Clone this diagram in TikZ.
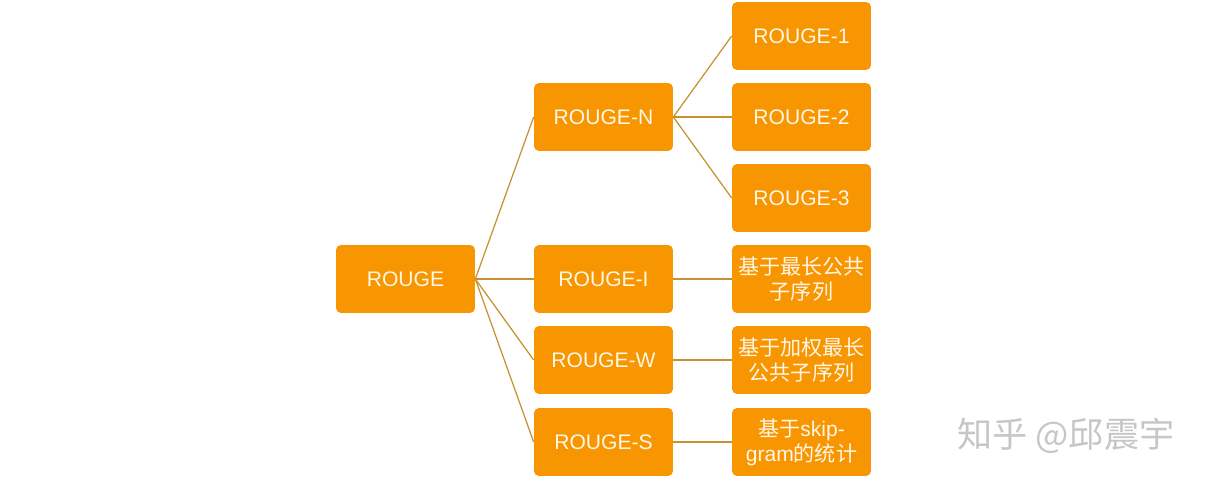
\documentclass[tikz,border=0pt]{standalone}
\usepackage{fontspec}
\setmainfont{Liberation Sans}
\newfontfamily\cjk{Noto Sans CJK SC}
\usepackage{tikz}
\usetikzlibrary{positioning}
\definecolor{boxorange}{HTML}{F79600}
\definecolor{linkgold}{HTML}{C4922E}
\definecolor{boxtext}{HTML}{FFF6E6}
\tikzset{rbox/.style={fill=boxorange, text=boxtext, rounded corners=0.1cm,
  minimum width=2.78cm, minimum height=1.36cm, inner sep=0pt, align=center,
  font=\fontsize{12}{14.2}\selectfont}}
\tikzset{link/.style={draw=linkgold, line width=0.7pt}}

\begin{document}
\begin{tikzpicture}[x=0.02cm,y=-0.02cm]
\useasboundingbox (0,0) rectangle (1208,486);
% root
\node[rbox] (root) at (405.5,279) {ROUGE};
% second level
\node[rbox] (rn) at (603.5,117) {ROUGE-N};
\node[rbox] (rl) at (603.5,279) {ROUGE-I};
\node[rbox] (rw) at (603.5,360) {ROUGE-W};
\node[rbox] (rs) at (603.5,442) {ROUGE-S};
% third level
\node[rbox] (r1) at (801.5,36) {ROUGE-1};
\node[rbox] (r2) at (801.5,117) {ROUGE-2};
\node[rbox] (r3) at (801.5,198) {ROUGE-3};
\node[rbox] (dl) at (801.5,279) {\cjk 基于最长公共\\\cjk 子序列};
\node[rbox] (dw) at (801.5,360) {\cjk 基于加权最长\\\cjk 公共子序列};
\node[rbox] (ds) at (801.5,442) {{\cjk 基于}skip-\\gram{\cjk 的统计}};
\foreach \c in {rn,rl,rw,rs} {
\draw[link] (root.east) -- (\c.west);
}
\foreach \c in {r1,r2,r3} {
\draw[link] (rn.east) -- (\c.west);
}
\draw[link] (rl.east) -- (dl.west);
\draw[link] (rw.east) -- (dw.west);
\draw[link] (rs.east) -- (ds.west);
% watermark
\node[text=gray!45, font=\cjk\fontsize{20}{22}\selectfont] (mark) at (1066,436) {知乎 @邱震宇};
\end{tikzpicture}
\end{document}
